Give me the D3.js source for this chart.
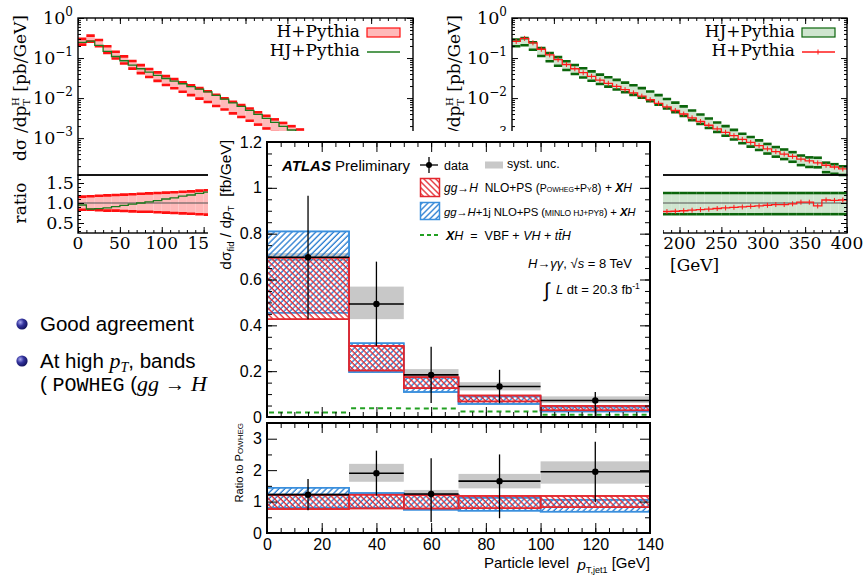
<!DOCTYPE html>
<html>
<head>
<meta charset="utf-8">
<script src="https://cdn.jsdelivr.net/npm/d3@7"></script>
<style>
  body { margin: 0; background: #fff; }
  .serif { font-family: "DejaVu Serif", serif; }
  .sans { font-family: "Liberation Sans", Arial, sans-serif; }
</style>
</head>
<body>
<svg id="chart" width="866" height="579"></svg>
<script>
// ---------- background slide plots: Higgs pT, 10 GeV bins ----------
const bgBinLo = [0, 10, 20, 30, 40, 50, 60, 70, 80, 90, 100, 110, 120, 130, 140, 150, 160, 170, 180, 190,
  200, 210, 220, 230, 240, 250, 260, 270, 280, 290, 300, 310, 320, 330, 340, 350, 360, 370, 380, 390];
// H+Pythia central value [pb/GeV]
const hPythia = [0.26, 0.31, 0.24, 0.166, 0.12, 0.091, 0.069, 0.054, 0.043, 0.035,
  0.028, 0.0234, 0.0195, 0.0162, 0.0135, 0.0112, 0.0091, 0.0074, 0.006, 0.0049,
  0.004, 0.0032, 0.0026, 0.0021, 0.0017, 0.0014, 0.00115, 0.00093, 0.00078, 0.00065,
  0.00054, 0.00046, 0.0004, 0.00035, 0.0003, 0.00027, 0.00024, 0.00021, 0.00019, 0.00017];
// HJ+Pythia / H+Pythia
const hjOverH = [0.95, 0.85, 0.86, 0.88, 0.91, 0.94, 0.97, 1.0, 1.03, 1.06,
  1.1, 1.13, 1.17, 1.2, 1.24, 1.27, 1.28, 1.28, 1.27, 1.26,
  1.24, 1.22, 1.2, 1.18, 1.16, 1.14, 1.12, 1.11, 1.09, 1.08,
  1.06, 1.04, 1.04, 1.02, 0.98, 0.98, 1.08, 0.93, 0.94, 0.93];
// relative uncertainty bands
const hBandLo = [0.83, 0.83, 0.82, 0.81, 0.81, 0.8, 0.79, 0.78, 0.78, 0.77, 0.76, 0.75, 0.74, 0.73, 0.72, 0.71, 0.7, 0.7, 0.69, 0.69,
  0.68, 0.68, 0.67, 0.67, 0.66, 0.66, 0.65, 0.65, 0.64, 0.64, 0.63, 0.63, 0.62, 0.62, 0.61, 0.61, 0.6, 0.6, 0.6, 0.59];
const hBandHi = [1.16, 1.17, 1.18, 1.19, 1.2, 1.21, 1.22, 1.23, 1.24, 1.25, 1.26, 1.27, 1.28, 1.29, 1.31, 1.32, 1.33, 1.34, 1.35, 1.36,
  1.37, 1.38, 1.39, 1.4, 1.41, 1.42, 1.43, 1.44, 1.45, 1.46, 1.47, 1.48, 1.49, 1.5, 1.51, 1.52, 1.53, 1.54, 1.55, 1.56];
const hjBandLo = [0.8, 0.79, 0.78, 0.77, 0.76, 0.75, 0.75, 0.74, 0.74, 0.73, 0.73, 0.73, 0.72, 0.72, 0.72, 0.72, 0.72, 0.72, 0.72, 0.72,
  0.72, 0.72, 0.72, 0.72, 0.72, 0.72, 0.72, 0.72, 0.72, 0.72, 0.72, 0.72, 0.72, 0.72, 0.72, 0.72, 0.72, 0.72, 0.72, 0.72];
const hjBandHi = [1.18, 1.19, 1.2, 1.21, 1.22, 1.23, 1.24, 1.24, 1.25, 1.25, 1.25, 1.25, 1.25, 1.25, 1.25, 1.25, 1.25, 1.25, 1.25, 1.25,
  1.25, 1.25, 1.25, 1.25, 1.25, 1.25, 1.25, 1.25, 1.25, 1.25, 1.25, 1.25, 1.25, 1.25, 1.25, 1.25, 1.25, 1.25, 1.25, 1.25];
const bgLogTicks = [1, 0.1, 0.01, 0.001];
const bgLogExp = ['0', '\u22121', '\u22122', '\u22123'];
const bgRatioTicks = [0.5, 1.0, 1.5];

// ---------- main ATLAS plot ----------
const binEdges = [0, 30, 50, 70, 100, 140];
const dataVal = [0.697, 0.493, 0.184, 0.133, 0.072];
const statLo = [0.427, 0.31, 0.061, 0.06, 0.0];
const statHi = [0.965, 0.678, 0.307, 0.206, 0.109];
const systLo = [0.68, 0.427, 0.17, 0.116, 0.061];
const systHi = [0.715, 0.569, 0.209, 0.152, 0.09];
const powhegLo = [0.427, 0.203, 0.126, 0.068, 0.029];
const powhegHi = [0.695, 0.31, 0.174, 0.094, 0.049];
const minloLo = [0.455, 0.196, 0.109, 0.057, 0.024];
const minloHi = [0.81, 0.322, 0.172, 0.09, 0.045];
const xhVal = [0.02, 0.038, 0.037, 0.024, 0.01];
// ratio to Powheg
const rData = [1.22, 1.9, 1.24, 1.65, 1.95];
const rStatLo = [0.72, 1.19, 0.35, 0.47, 0.98];
const rStatHi = [1.72, 2.62, 2.38, 2.5, 2.9];
const rSystLo = [1.17, 1.63, 1.18, 1.42, 1.57];
const rSystHi = [1.27, 2.2, 1.37, 1.88, 2.28];
const rPowhegLo = [0.76, 0.78, 0.78, 0.79, 0.82];
const rPowhegHi = [1.21, 1.22, 1.2, 1.18, 1.18];
const rMinloLo = [0.8, 0.8, 0.74, 0.71, 0.68];
const rMinloHi = [1.44, 1.27, 1.22, 1.12, 1.06];
const mainYTicks = [0, 0.2, 0.4, 0.6, 0.8, 1, 1.2];
const ratioYTicks = [0, 1, 2, 3];
const mainXTicks = [0, 20, 40, 60, 80, 100, 120, 140];

const W = 866, H = 579;
const svg = d3.select('#chart');
const defs = svg.append('defs');

// area hidden by the main plot
const box = { x0: 208, y0: 131, x1: 663 };
defs.append('clipPath').attr('id', 'bgclip')
  .append('path')
  .attr('clip-rule', 'evenodd')
  .attr('d', `M0,0H${W}V${H}H0Z M${box.x0},${box.y0}H${box.x1}V${H}H${box.x0}Z`);
defs.append('clipPath').attr('id', 'leftclip')
  .append('rect').attr('x', 0).attr('y', 0).attr('width', box.x0).attr('height', H);

function hatch(id, color, angle) {
  const p = defs.append('pattern').attr('id', id)
    .attr('patternUnits', 'userSpaceOnUse')
    .attr('width', 4.2).attr('height', 4.2)
    .attr('patternTransform', `rotate(${angle})`);
  p.append('line').attr('x1', 1).attr('y1', -1).attr('x2', 1).attr('y2', 5.2)
    .attr('stroke', color).attr('stroke-width', 1.3);
}
hatch('hRed', '#e3262d', -45);
hatch('hBlue', '#2379cf', 45);

const ball = defs.append('radialGradient').attr('id', 'ball')
  .attr('cx', 0.35).attr('cy', 0.35).attr('r', 0.7);
ball.append('stop').attr('offset', '0%').attr('stop-color', '#a9a9f0');
ball.append('stop').attr('offset', '45%').attr('stop-color', '#34349e');
ball.append('stop').attr('offset', '100%').attr('stop-color', '#10105a');

// inward ticks with a d3 axis
function inward(g, scale, orient, pos, values, len, fmt, pad) {
  const gen = { bottom: d3.axisBottom, top: d3.axisTop, left: d3.axisLeft, right: d3.axisRight }[orient];
  const ax = gen(scale).tickValues(values).tickSizeInner(-len).tickSizeOuter(0)
    .tickPadding(pad || 3);
  if (fmt) ax.tickFormat(fmt);
  const tr = (orient === 'bottom' || orient === 'top') ? `translate(0,${pos})` : `translate(${pos},0)`;
  const a = g.append('g').attr('transform', tr).call(ax);
  a.select('.domain').remove();
  a.selectAll('line').attr('stroke', '#000');
  if (!fmt) a.selectAll('text').remove();
  else a.attr('font-family', null).selectAll('text').attr('fill', '#000');
  return a;
}

function rich(g, x, y, parts, size, anchor) {
  const t = g.append('text').attr('x', x).attr('y', y)
    .attr('font-size', size).attr('text-anchor', anchor || 'start')
    .style('white-space', 'pre');
  parts.forEach(p => {
    const s = t.append('tspan').text(p.t);
    if (p.i) s.attr('font-style', 'italic');
    if (p.b) s.attr('font-weight', 'bold');
    if (p.s) s.attr('font-size', p.s);
    if (p.sc) s.style('font-variant', 'small-caps');
    if (p.dy) s.attr('dy', p.dy);
    if (p.dx) s.attr('dx', p.dx);
    if (p.f) s.attr('font-family', p.f);
  });
  return t;
}

svg.append('rect').attr('width', W).attr('height', H).attr('fill', '#fff');

// ================= background plots =================
const bgTop = 18, bgMid = 175, bgBot = 233;
const bgY = d3.scaleLog().domain([1.2e-4, 1]).range([bgMid, bgTop]).clamp(true);
const bgR = d3.scaleLinear().domain([0.25, 1.7]).range([bgBot, bgMid]).clamp(true);
const bg = svg.append('g').attr('clip-path', 'url(#bgclip)').attr('class', 'serif');

function drawBg(x0, x1, o) {
  const g = bg.append('g');
  const x = d3.scaleLinear().domain([0, 400]).range([x0, x1]);
  const bins = bgBinLo.map((lo, i) => ({
    lo, hi: lo + 10, c: o.bandC[i], blo: o.bandLo[i], bhi: o.bandHi[i], l: o.line[i], r: o.ratio[i]
  }));

  // --- top panel band
  g.append('g').selectAll('rect').data(bins).join('rect')
    .attr('x', d => x(d.lo)).attr('width', d => x(d.hi) - x(d.lo))
    .attr('y', d => bgY(d.c * d.bhi))
    .attr('height', d => bgY(d.c * d.blo) - bgY(d.c * d.bhi))
    .attr('fill', o.fill);
  ['blo', 'bhi'].forEach(k => {
    g.append('g').selectAll('line').data(bins).join('line')
      .attr('x1', d => x(d.lo)).attr('x2', d => x(d.hi))
      .attr('y1', d => bgY(d.c * d[k])).attr('y2', d => bgY(d.c * d[k]))
      .attr('stroke', o.edge).attr('stroke-width', 2.6);
  });
  const step = d3.line().curve(d3.curveStepAfter).x(d => x(d[0]));
  const linePts = bins.map(d => [d.lo, d.l]).concat([[400, bins[bins.length - 1].l]]);
  g.append('path').attr('d', step.y(d => bgY(d[1]))(linePts))
    .attr('fill', 'none').attr('stroke', o.lineColor).attr('stroke-width', 1.3);
  if (o.crosses) {
    g.append('g').selectAll('line').data(bins).join('line')
      .attr('x1', d => x(d.lo + 5)).attr('x2', d => x(d.lo + 5))
      .attr('y1', d => bgY(d.l) - 2.5).attr('y2', d => bgY(d.l) + 2.5)
      .attr('stroke', o.lineColor).attr('stroke-width', 1);
  }

  // --- ratio panel
  g.append('g').selectAll('rect').data(bins).join('rect')
    .attr('x', d => x(d.lo)).attr('width', d => x(d.hi) - x(d.lo))
    .attr('y', d => bgR(d.bhi)).attr('height', d => bgR(d.blo) - bgR(d.bhi))
    .attr('fill', o.fill);
  ['blo', 'bhi'].forEach(k => {
    g.append('g').selectAll('line').data(bins).join('line')
      .attr('x1', d => x(d.lo)).attr('x2', d => x(d.hi))
      .attr('y1', d => bgR(d[k])).attr('y2', d => bgR(d[k]))
      .attr('stroke', o.edge).attr('stroke-width', 2.6);
  });
  g.append('line').attr('x1', x0).attr('x2', x1).attr('y1', bgR(1)).attr('y2', bgR(1))
    .attr('stroke', '#555').attr('stroke-width', 1.2);
  const rPts = bins.map(d => [d.lo, d.r]).concat([[400, bins[bins.length - 1].r]]);
  g.append('path').attr('d', step.y(d => bgR(d[1]))(rPts))
    .attr('fill', 'none').attr('stroke', o.lineColor).attr('stroke-width', 1.3);
  if (o.crosses) {
    g.append('g').selectAll('line').data(bins).join('line')
      .attr('x1', d => x(d.lo + 5)).attr('x2', d => x(d.lo + 5))
      .attr('y1', d => bgR(d.r) - 2.5).attr('y2', d => bgR(d.r) + 2.5)
      .attr('stroke', o.lineColor).attr('stroke-width', 1);
  }

  // --- frames and ticks
  g.append('rect').attr('x', x0).attr('y', bgTop).attr('width', x1 - x0).attr('height', bgMid - bgTop)
    .attr('fill', 'none').attr('stroke', '#000').attr('stroke-width', 1.4);
  g.append('rect').attr('x', x0).attr('y', bgMid).attr('width', x1 - x0).attr('height', bgBot - bgMid)
    .attr('fill', 'none').attr('stroke', '#000').attr('stroke-width', 1.4);
  const xMaj = [0, 50, 100, 150, 200, 250, 300, 350, 400];
  const xMin = d3.range(0, 401, 10);
  const logMin = [];
  [1e-4, 1e-3, 1e-2, 1e-1].forEach(dec => [2, 3, 4, 5, 6, 7, 8, 9].forEach(m => {
    if (dec * m >= 1.2e-4) logMin.push(dec * m);
  }));
  const rMin = d3.range(0.3, 1.71, 0.1);
  inward(g, x, 'top', bgTop, xMaj, 6);
  inward(g, x, 'top', bgTop, xMin, 3);
  inward(g, x, 'bottom', bgBot, xMaj, 6);
  inward(g, x, 'bottom', bgBot, xMin, 3);
  [['left', x0], ['right', x1]].forEach(([side, p]) => {
    inward(g, bgY, side, p, bgLogTicks, 6);
    inward(g, bgY, side, p, logMin, 3);
    inward(g, bgR, side, p, bgRatioTicks, 6);
    inward(g, bgR, side, p, rMin, 3);
  });

  // --- labels
  g.append('g').selectAll('text').data(o.xLabels).join('text')
    .attr('x', d => x(d)).attr('y', 249).attr('text-anchor', 'middle')
    .attr('font-size', 17).text(d => d);
  bgLogTicks.forEach((v, i) => {
    const t = g.append('text').attr('x', x0 - 5).attr('y', bgY(v) + 6)
      .attr('text-anchor', 'end').attr('font-size', 17.5);
    t.append('tspan').text('10');
    t.append('tspan').attr('font-size', 12).attr('dy', -8).text(bgLogExp[i]);
  });
  const yl = g.append('text')
    .attr('transform', `translate(${x0 - 52},${88}) rotate(-90)`)
    .attr('text-anchor', 'middle').attr('font-size', 17);
  yl.append('tspan').text('d\u03c3 /dp');
  yl.append('tspan').attr('font-size', 10).attr('dy', 4).text('T');
  yl.append('tspan').attr('font-size', 10).attr('dx', -7).attr('dy', -11).text('H');
  yl.append('tspan').attr('dy', 7).text(' [pb/GeV]');
  if (o.ratioLabels) {
    g.append('g').selectAll('text').data(bgRatioTicks).join('text')
      .attr('x', x0 - 4).attr('y', d => bgR(d) + 6).attr('text-anchor', 'end')
      .attr('font-size', 17.5).text(d => d.toFixed(1));
    g.append('text').attr('transform', `translate(${x0 - 52},${bgR(1)}) rotate(-90)`)
      .attr('text-anchor', 'middle').attr('font-size', 17).text('ratio');
  }
  return x;
}

// left: H+Pythia band, HJ+Pythia line
drawBg(78, 413, {
  bandC: hPythia, bandLo: hBandLo, bandHi: hBandHi,
  line: hPythia.map((v, i) => v * hjOverH[i]), ratio: hjOverH,
  fill: '#ffb9b9', edge: '#ff1010', lineColor: '#1c7a1c', crosses: false,
  xLabels: [0, 50, 100, 150], ratioLabels: true
});
// right: HJ+Pythia band, H+Pythia line
drawBg(512, 847, {
  bandC: hPythia.map((v, i) => v * hjOverH[i]), bandLo: hjBandLo, bandHi: hjBandHi,
  line: hPythia, ratio: hjOverH.map(v => 1 / v),
  fill: '#cfe5cf', edge: '#0b650b', lineColor: '#ff1a1a', crosses: true,
  xLabels: [200, 250, 300, 350, 400], ratioLabels: false
});
bg.append('text').attr('x', 670).attr('y', 271).attr('font-size', 17).text('[GeV]');

// legends of background plots
const lg = bg.append('g').attr('font-size', 17);
lg.append('text').attr('x', 360).attr('y', 37).attr('text-anchor', 'end').text('H+Pythia');
lg.append('rect').attr('x', 367).attr('y', 28).attr('width', 33).attr('height', 9)
  .attr('fill', '#ffb9b9').attr('stroke', '#ff1010').attr('stroke-width', 1.2);
lg.append('text').attr('x', 360).attr('y', 56).attr('text-anchor', 'end').text('HJ+Pythia');
lg.append('line').attr('x1', 367).attr('x2', 400).attr('y1', 52).attr('y2', 52)
  .attr('stroke', '#1c7a1c').attr('stroke-width', 1.3);
lg.append('text').attr('x', 795).attr('y', 37).attr('text-anchor', 'end').text('HJ+Pythia');
lg.append('rect').attr('x', 802).attr('y', 28).attr('width', 33).attr('height', 9)
  .attr('fill', '#cfe5cf').attr('stroke', '#0b650b').attr('stroke-width', 1.2);
lg.append('text').attr('x', 795).attr('y', 56).attr('text-anchor', 'end').text('H+Pythia');
lg.append('line').attr('x1', 802).attr('x2', 835).attr('y1', 52).attr('y2', 52)
  .attr('stroke', '#ff1a1a').attr('stroke-width', 1.3);
lg.append('line').attr('x1', 818).attr('x2', 818).attr('y1', 49.5).attr('y2', 54.5)
  .attr('stroke', '#ff1a1a').attr('stroke-width', 1);

// ================= slide bullets =================
const bul = svg.append('g').attr('clip-path', 'url(#leftclip)').attr('class', 'sans');
[324, 361].forEach(cy => bul.append('circle').attr('cx', 22).attr('cy', cy).attr('r', 5.6).attr('fill', 'url(#ball)'));
bul.append('text').attr('x', 40).attr('y', 331).attr('font-size', 20.5).text('Good agreement');
rich(bul, 40, 368, [
  { t: 'At high ' },
  { t: 'p', i: 1, f: 'Liberation Serif', s: 22 },
  { t: 'T', i: 1, f: 'Liberation Serif', s: 14, dy: 4 },
  { t: ', bands', dy: -4 }
], 20.5);
rich(bul, 40, 391, [
  { t: '( ' },
  { t: 'POWHEG', f: 'Liberation Mono', s: 20 },
  { t: ' (' },
  { t: 'gg', i: 1, f: 'Liberation Serif', s: 22 },
  { t: ' \u2192 ' },
  { t: 'H', i: 1, f: 'Liberation Serif', s: 22 }
], 20.5);

// ================= main ATLAS plot =================
svg.append('rect').attr('x', box.x0).attr('y', box.y0).attr('width', box.x1 - box.x0)
  .attr('height', H - box.y0).attr('fill', '#fff');
const m = svg.append('g').attr('class', 'sans');
const mx = d3.scaleLinear().domain([0, 140]).range([267, 650]);
const my = d3.scaleLinear().domain([0, 1.2]).range([417, 142]);
const ry = d3.scaleLinear().domain([0, 3.5]).range([533, 423]);
const RED = '#e3262d', BLUE = '#3a8fdd', GREEN = '#22a022';

const mBins = binEdges.slice(0, -1).map((lo, i) => ({
  lo, hi: binEdges[i + 1], v: dataVal[i], sLo: statLo[i], sHi: statHi[i],
  yLo: systLo[i], yHi: systHi[i], pLo: powhegLo[i], pHi: powhegHi[i],
  mLo: minloLo[i], mHi: minloHi[i], xh: xhVal[i],
  rv: rData[i], rsLo: rStatLo[i], rsHi: rStatHi[i], ryLo: rSystLo[i], ryHi: rSystHi[i],
  rpLo: rPowhegLo[i], rpHi: rPowhegHi[i], rmLo: rMinloLo[i], rmHi: rMinloHi[i]
}));

function panel(y, k) {
  const g = m.append('g');
  // syst. unc.
  g.append('g').selectAll('rect').data(mBins).join('rect')
    .attr('x', d => mx(d.lo)).attr('width', d => mx(d.hi) - mx(d.lo))
    .attr('y', d => y(d[k.yHi])).attr('height', d => y(d[k.yLo]) - y(d[k.yHi]))
    .attr('fill', '#c8c8c8');
  // bands: MiNLO (blue), Powheg (red)
  [[k.mLo, k.mHi, 'url(#hBlue)', BLUE], [k.pLo, k.pHi, 'url(#hRed)', RED]].forEach(([lo, hi, fill, col]) => {
    g.append('g').selectAll('rect').data(mBins).join('rect')
      .attr('x', d => mx(d.lo)).attr('width', d => mx(d.hi) - mx(d.lo))
      .attr('y', d => y(d[hi])).attr('height', d => y(d[lo]) - y(d[hi]))
      .attr('fill', fill).attr('stroke', col).attr('stroke-width', 1.5);
    const step = d3.line().curve(d3.curveStepAfter).x(d => mx(d[0])).y(d => y(d[1]));
    [lo, hi].forEach(key => {
      const pts = mBins.map(d => [d.lo, d[key]]).concat([[140, mBins[mBins.length - 1][key]]]);
      g.append('path').attr('d', step(pts)).attr('fill', 'none')
        .attr('stroke', col).attr('stroke-width', 1.5);
    });
  });
  if (k.xh) {
    g.append('g').selectAll('line').data(mBins).join('line')
      .attr('x1', d => mx(d.lo) + 2).attr('x2', d => mx(d.hi) - 2)
      .attr('y1', d => y(d.xh)).attr('y2', d => y(d.xh))
      .attr('stroke', GREEN).attr('stroke-width', 2).attr('stroke-dasharray', '5,4');
  }
  // data
  g.append('g').selectAll('line').data(mBins).join('line')
    .attr('x1', d => mx(d.lo)).attr('x2', d => mx(d.hi))
    .attr('y1', d => y(d[k.v])).attr('y2', d => y(d[k.v]))
    .attr('stroke', '#000').attr('stroke-width', 1.6);
  g.append('g').selectAll('line').data(mBins).join('line')
    .attr('x1', d => mx((d.lo + d.hi) / 2)).attr('x2', d => mx((d.lo + d.hi) / 2))
    .attr('y1', d => y(d[k.sLo])).attr('y2', d => y(d[k.sHi]))
    .attr('stroke', '#000').attr('stroke-width', 1.3);
  g.append('g').selectAll('circle').data(mBins).join('circle')
    .attr('cx', d => mx((d.lo + d.hi) / 2)).attr('cy', d => y(d[k.v])).attr('r', 3.2)
    .attr('fill', '#000');
}
panel(my, { yLo: 'yLo', yHi: 'yHi', mLo: 'mLo', mHi: 'mHi', pLo: 'pLo', pHi: 'pHi', v: 'v', sLo: 'sLo', sHi: 'sHi', xh: true });
panel(ry, { yLo: 'ryLo', yHi: 'ryHi', mLo: 'rmLo', mHi: 'rmHi', pLo: 'rpLo', pHi: 'rpHi', v: 'rv', sLo: 'rsLo', sHi: 'rsHi', xh: false });

// frames and ticks
m.append('rect').attr('x', 267).attr('y', 142).attr('width', 383).attr('height', 275)
  .attr('fill', 'none').attr('stroke', '#000').attr('stroke-width', 2);
m.append('rect').attr('x', 267).attr('y', 423).attr('width', 383).attr('height', 110)
  .attr('fill', 'none').attr('stroke', '#000').attr('stroke-width', 2);
const xMinor = d3.range(0, 141, 5);
[142, 417].forEach(p => {
  inward(m, mx, p === 142 ? 'top' : 'bottom', p, mainXTicks, 10);
  inward(m, mx, p === 142 ? 'top' : 'bottom', p, xMinor, 5);
});
inward(m, mx, 'top', 423, mainXTicks, 10);
inward(m, mx, 'top', 423, xMinor, 5);
inward(m, mx, 'bottom', 533, xMinor, 5);
inward(m, mx, 'bottom', 533, mainXTicks, 10, d => d, 6)
  .selectAll('text').attr('font-size', 16);
const yMinor = d3.range(0, 1.21, 0.05);
inward(m, my, 'left', 267, mainYTicks, 10, d3.format('~g'), 5).selectAll('text').attr('font-size', 16);
inward(m, my, 'left', 267, yMinor, 5);
inward(m, my, 'right', 650, mainYTicks, 10);
inward(m, my, 'right', 650, yMinor, 5);
const rMinorT = [0.5, 1.5, 2.5, 3.5];
inward(m, ry, 'left', 267, ratioYTicks, 10, d => d, 5).selectAll('text').attr('font-size', 16);
inward(m, ry, 'left', 267, rMinorT, 5);
inward(m, ry, 'right', 650, ratioYTicks, 10);
inward(m, ry, 'right', 650, rMinorT, 5);

// axis titles
const mt = rich(m, 0, 0, [
  { t: 'd\u03c3' }, { t: 'fid', s: 9.5, dy: 3 }, { t: ' / d', dy: -3 }, { t: 'p', i: 1 },
  { t: 'T', s: 9.5, dy: 3 }, { t: '  [fb/GeV]', dy: -3 }
], 15.5, 'end');
mt.attr('transform', 'translate(231,140) rotate(-90)');
const rt = rich(m, 0, 0, [{ t: 'Ratio to ' }, { t: 'Powheg', sc: 1 }], 11, 'end');
rt.attr('transform', 'translate(243,423) rotate(-90)');
rich(m, 650, 568, [
  { t: 'Particle level  ' }, { t: 'p', i: 1, s: 15.5, dy: 2 }, { t: 'T,jet1', s: 9, dy: 3 },
  { t: ' [GeV]', dy: -5 }
], 15, 'end');

// legend
rich(m, 282, 170.5, [{ t: 'ATLAS', b: 1, i: 1 }, { t: ' Preliminary' }], 15);
m.append('line').attr('x1', 420).attr('x2', 438).attr('y1', 165).attr('y2', 165).attr('stroke', '#000').attr('stroke-width', 1.3);
m.append('line').attr('x1', 429).attr('x2', 429).attr('y1', 157).attr('y2', 173).attr('stroke', '#000').attr('stroke-width', 1.3);
m.append('circle').attr('cx', 429).attr('cy', 165).attr('r', 3).attr('fill', '#000');
m.append('text').attr('x', 444).attr('y', 169.5).attr('font-size', 12.5).text('data');
m.append('rect').attr('x', 485).attr('y', 161.5).attr('width', 18).attr('height', 7).attr('fill', '#c8c8c8');
m.append('text').attr('x', 507).attr('y', 168).attr('font-size', 12.5).text('syst. unc.');
m.append('rect').attr('x', 420.5).attr('y', 178.5).attr('width', 19).attr('height', 18)
  .attr('fill', 'url(#hRed)').attr('stroke', RED).attr('stroke-width', 1.5);
m.append('rect').attr('x', 420.5).attr('y', 202.5).attr('width', 19).attr('height', 17)
  .attr('fill', 'url(#hBlue)').attr('stroke', BLUE).attr('stroke-width', 1.5);
m.append('line').attr('x1', 420).attr('x2', 440).attr('y1', 235).attr('y2', 235)
  .attr('stroke', GREEN).attr('stroke-width', 2).attr('stroke-dasharray', '4,3');
rich(m, 444, 191.5, [
  { t: 'gg\u2192H', i: 1 }, { t: '  NLO+PS (' }, { t: 'Powheg+Py8', sc: 1, s: 10.5 },
  { t: ') + ' }, { t: 'X', b: 1, i: 1 }, { t: 'H', i: 1 }
], 12);
rich(m, 444, 215.5, [
  { t: 'gg\u2192H', i: 1 }, { t: '+1j NLO+PS (' }, { t: 'MINLO HJ+PY8', s: 8.5 },
  { t: ') + ' }, { t: 'X', b: 1, i: 1 }, { t: 'H', i: 1 }
], 11.4).style('letter-spacing', '-0.15px');
rich(m, 446, 239.5, [
  { t: 'X', b: 1, i: 1 }, { t: 'H', i: 1 }, { t: '  =  VBF + ' }, { t: 'VH', i: 1 }, { t: ' + ' },
  { t: 'tt\u0304H', i: 1 }
], 12.5);
rich(m, 632, 268, [
  { t: 'H\u2192\u03b3\u03b3', i: 1 }, { t: ', \u221a' }, { t: 's', i: 1 }, { t: ' = 8 TeV' }
], 13, 'end');
m.append('text').attr('x', 544).attr('y', 297).attr('font-size', 20).text('\u222b');
rich(m, 556, 294, [
  { t: 'L', i: 1 }, { t: ' dt = 20.3 fb' }, { t: '-1', s: 8.5, dy: -5 }
], 13);
</script>
</body>
</html>
